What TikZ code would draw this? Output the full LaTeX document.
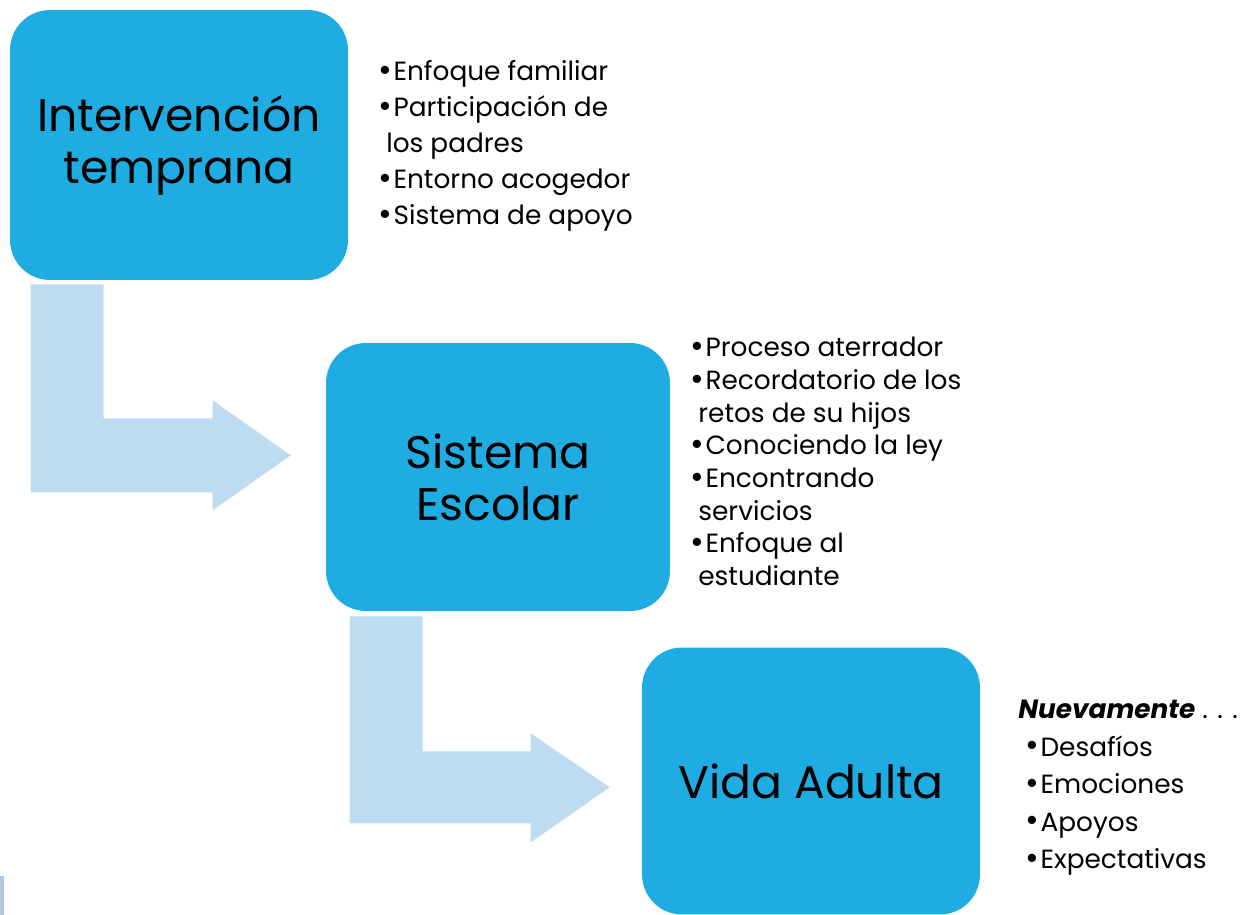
\documentclass[tikz,border=0pt]{standalone}
\usepackage{fontspec}
\setmainfont{Poppins}
\usetikzlibrary{positioning,calc}
\definecolor{boxblue}{RGB}{31,172,227}
\definecolor{arrowblue}{RGB}{189,220,242}
\definecolor{edgeblue}{RGB}{180,199,231}
\tikzset{
    stage/.style={rectangle, rounded corners=0.8cm, fill=boxblue, minimum width=6.76cm, minimum height=5.4cm, text centered, align=center, font=\fontsize{26}{29.6}\selectfont},
    bullets/.style={anchor=north west, inner sep=0pt, align=left, font=\fontsize{15}{20.5}\selectfont},
    bigarrow/.style={fill=arrowblue}
}
\newcommand{\cont}{\hspace*{0.16cm}}
\newcommand{\bul}{\raisebox{-0.4pt}{\fontsize{19}{19}\selectfont\textbullet}\hspace{0.03cm}}

\begin{document}
\begin{tikzpicture}[x=0.02cm, y=-0.02cm]
    \useasboundingbox (0,0) rectangle (1255,915);

    % Stages
    \node[stage] (interv) at (179,145) {Intervención\\temprana};
    \node[stage, minimum width=6.88cm, minimum height=5.36cm] (escolar) at (498,477) {Sistema\\Escolar};
    \node[stage, minimum height=5.34cm] (adulta) at (811,781) {Vida Adulta};

    % Bullet lists
    \node[bullets] (list1) at (378,60) {\bul Enfoque familiar\\
        \bul Participación de\\ \cont los padres\\
        \bul Entorno acogedor\\
        \bul Sistema de apoyo};
    \node[bullets, font=\fontsize{15}{18.6}\selectfont] (list2) at (690,337) {\bul Proceso aterrador\\
        \bul Recordatorio de los\\ \cont retos de su hijos\\
        \bul Conociendo la ley\\
        \bul Encontrando\\ \cont servicios\\
        \bul Enfoque al\\ \cont estudiante};
    \node[bullets, font=\fontsize{15}{21.3}\selectfont] (list3) at (1018,700) {\textbf{\textit{Nuevamente}} . . .\\
        \hspace*{0.14cm}\bul Desafíos\\
        \hspace*{0.14cm}\bul Emociones\\
        \hspace*{0.14cm}\bul Apoyos\\
        \hspace*{0.14cm}\bul Expectativas};

    % Bent arrows
    \coordinate (a1) at ([shift={(21,4)}]interv.south west);
    \coordinate (a2) at ([shift={(24,5)}]escolar.south west);
    \fill[bigarrow] (a1) -- ++(73,0) -- ++(0,134) -- ++(109,0) -- ++(0,-18)
        -- ++(78,55) -- ++(-78,55) -- ++(0,-18) -- ++(-182,0) -- cycle;
    \fill[bigarrow] (a2) -- ++(73,0) -- ++(0,135) -- ++(108,0) -- ++(0,-18)
        -- ++(79,54) -- ++(-79,55) -- ++(0,-19) -- ++(-181,0) -- cycle;

    % edge of next slide
    \fill[edgeblue] (0,876) rectangle (4,915);
\end{tikzpicture}
\end{document}
